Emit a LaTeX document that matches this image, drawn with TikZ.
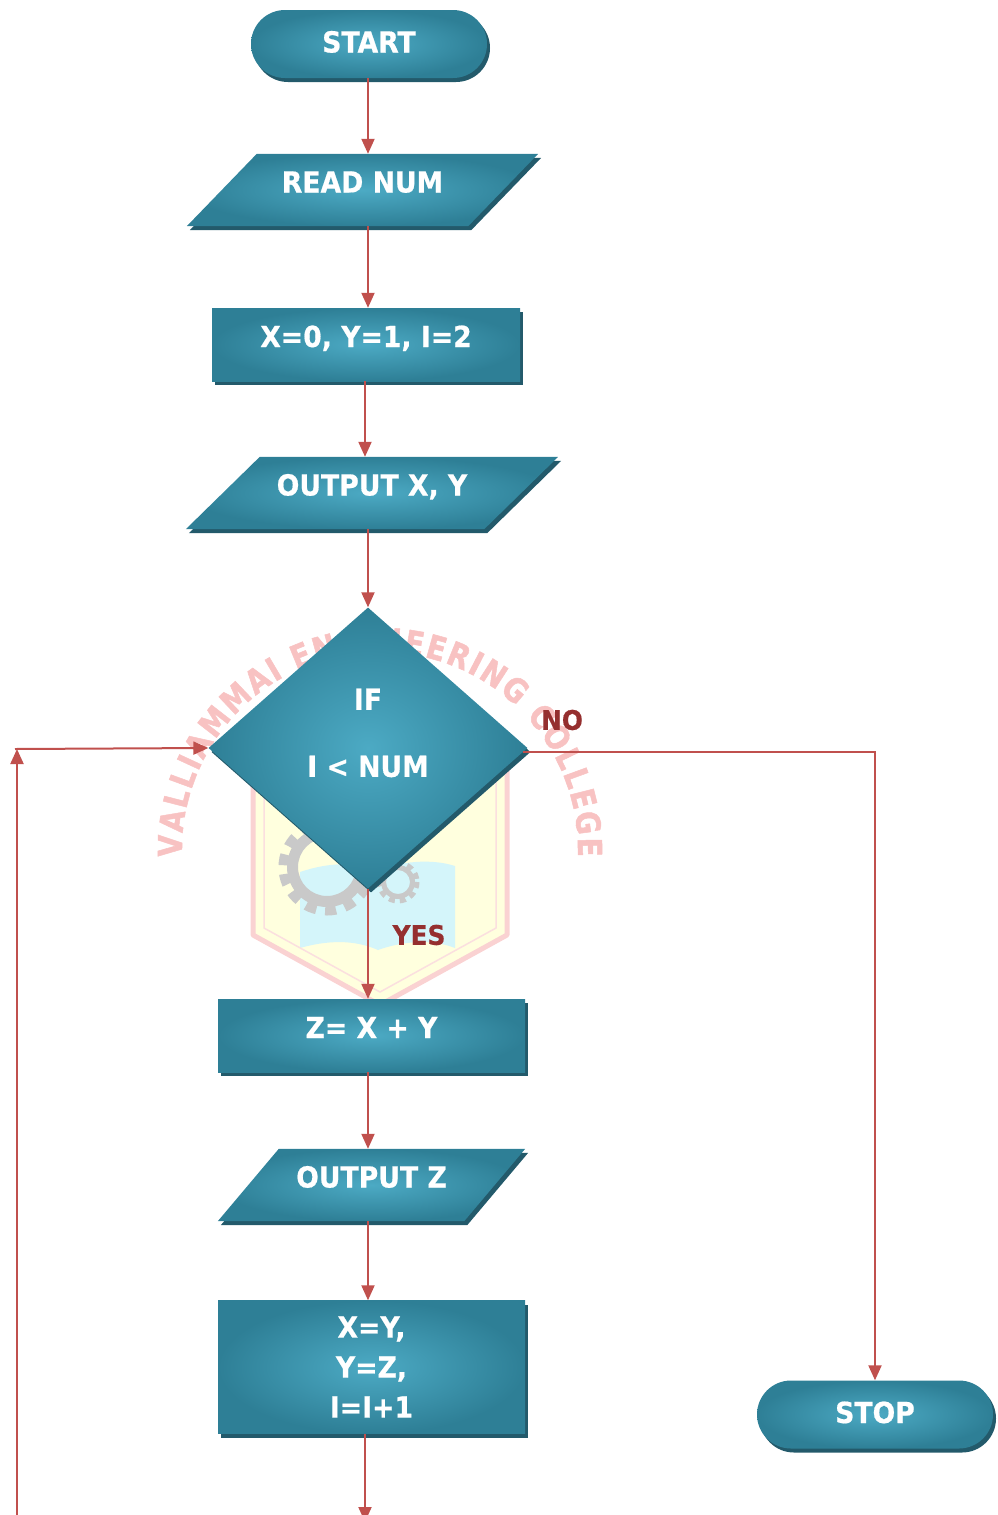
\documentclass[tikz,border=0pt]{standalone}
\usepackage{fontspec}
\setmainfont{DejaVu Sans}
\newfontfamily\boxfont{DejaVu Sans}[FakeStretch=0.92, BoldFeatures={FakeBold=0.6}]
\newfontfamily\wmfont{DejaVu Sans}[FakeStretch=0.85, BoldFeatures={FakeBold=1.5}]
\usetikzlibrary{shapes.geometric,shapes.misc,shadows,arrows.meta,decorations.text}
\pgfdeclarelayer{wm}
\pgfdeclarelayer{bg}
\pgfsetlayers{wm,bg,main}
\definecolor{tealout}{HTML}{2E7F96}
\definecolor{tealin}{HTML}{4CAAC4}
\definecolor{shadowc}{HTML}{235A6B}
\definecolor{arrowc}{HTML}{C0504D}
\definecolor{labelc}{HTML}{952F2F}
\definecolor{wmpink}{HTML}{F8C2C2}
\definecolor{wmline}{HTML}{FAD2D2}
\definecolor{wmyellow}{HTML}{FFFFDE}
\definecolor{wmblue}{HTML}{D4F5FA}
\definecolor{wmgray}{HTML}{C9C9C9}
\begin{document}
\begin{tikzpicture}[x=1pt,y=-1pt,
  fillshade/.style={inner color=tealin, outer color=tealout, draw=none,
    drop shadow={shadow xshift=3pt, shadow yshift=-4pt, fill=shadowc, opacity=1}},
  txt/.style={text=white, font=\boxfont\bfseries\fontsize{29}{30}\selectfont, align=center, inner sep=0pt},
  box/.style={fillshade, txt},
  term/.style={box, rounded rectangle, minimum width=236pt, minimum height=68pt,
    text height=21pt, text depth=4pt},
  proc/.style={box, rectangle, minimum width=307pt, minimum height=73pt,
    text height=21pt, text depth=16pt},
  io/.style={txt, rectangle, minimum height=72pt, text height=21pt, text depth=16pt},
  dec/.style={box, diamond, minimum width=319pt, minimum height=281pt},
  conn/.style={draw=arrowc, line width=2pt, -{Triangle[length=15pt,width=13pt]}},
  lbl/.style={text=labelc, font=\boxfont\bfseries\fontsize{27}{28}\selectfont, inner sep=0pt}
]
\useasboundingbox (0,0) rectangle (998,1515);

% ---- watermark (college logo) ----
\begin{pgfonlayer}{wm}
\fill[wmyellow] (253,740) -- (253,935) -- (380,1005) -- (507,935) -- (507,740) -- cycle;
\fill[wmblue] (300,872) -- (300,948) .. controls (335,938) and (360,942) .. (378,950)
  .. controls (400,942) and (430,938) .. (455,948) -- (455,866)
  .. controls (430,858) and (400,862) .. (378,870) .. controls (355,862) and (330,862) .. (300,872) -- cycle;
\fill[wmgray, even odd rule] (327,867) circle[radius=40] (327,867) circle[radius=29];
\draw[wmgray, line width=9pt, dash pattern=on 11pt off 9pt] (327,867) circle[radius=44];
\fill[wmgray, even odd rule] (398,882) circle[radius=17] (398,882) circle[radius=12];
\draw[wmgray, line width=5pt, dash pattern=on 6pt off 5pt] (398,882) circle[radius=19];
\draw[wmline, line width=5pt, line join=round] (253,740) -- (253,935) -- (380,1005) -- (507,935) -- (507,740);
\draw[wmline!70, line width=1.5pt] (264,740) -- (264,928) -- (380,992) -- (496,928) -- (496,740);
\path[decorate, decoration={text along path, text align=fit to path,
    text={|\color{wmpink}\wmfont\bfseries\fontsize{33}{33}\selectfont|VALLIAMMAI ENGINEERING COLLEGE}}]
  (380,850) ++(178:198) arc[start angle=178, end angle=362, radius=198];
\end{pgfonlayer}

% ---- axes for vertical connectors ----
\coordinate (axis) at (368,0);
\coordinate (axisb) at (365,0);

% ---- nodes ----
\node[term] (start) at (369,44) {START};
\node[io, minimum width=351pt] (read) at (362.5,190) {READ NUM};
\node[proc, minimum width=308pt] (init) at (366,344.5) {X=0, Y=1, I=2};
\node[io, minimum width=372pt] (outxy) at (372,493) {OUTPUT X, Y};
\node[dec] (dia) at (368,748) {};
\node[txt] (diatext) at (368,733) {IF\\[37pt]I < NUM};
\node[proc] (sum) at (371.5,1035.5) {Z= X + Y};
\node[io, minimum width=307pt] (outz) at (371.5,1185) {OUTPUT Z};
\node[box, rectangle, minimum width=307pt, minimum height=133pt] (upd) at (371.5,1367)
  {X=Y,\\[10pt]Y=Z,\\[10pt]I=I+1};
\node[term] (stop) at (875,1414.5) {STOP};

\node[lbl] (no) at (562,720) {NO};
\node[lbl] (yes) at (419,935) {YES};

% ---- parallelogram bodies of the input/output nodes ----
\begin{pgfonlayer}{bg}
\path[fillshade] ([xshift=70pt]read.north west) -- (read.north east)
  -- ([xshift=-70pt]read.south east) -- (read.south west) -- cycle;
\path[fillshade] ([xshift=74pt]outxy.north west) -- (outxy.north east)
  -- ([xshift=-74pt]outxy.south east) -- (outxy.south west) -- cycle;
\path[fillshade] ([xshift=61pt]outz.north west) -- (outz.north east)
  -- ([xshift=-61pt]outz.south east) -- (outz.south west) -- cycle;
\end{pgfonlayer}

\coordinate (bot) at (365,1522);
\coordinate (loopbot) at (17,1520);
\coordinate (loopcorner) at (17,749);

% ---- connectors ----
\draw[conn] (start.south -| axis) -- (read.north -| axis);
\draw[conn] (read.south -| axis) -- (init.north -| axis);
\draw[conn] (init.south -| axisb) -- (outxy.north -| axisb);
\draw[conn] (outxy.south -| axis) -- (dia.north);
\draw[conn] (dia.south) -- (sum.north -| dia.south);
\draw[conn] (sum.south -| axis) -- (outz.north -| axis);
\draw[conn] (outz.south -| axis) -- (upd.north -| axis);
\draw[conn] (upd.south -| axisb) -- (bot);
\draw[conn] ([xshift=-5pt,yshift=-4pt]dia.east) -| (stop.north);
\draw[conn] (loopbot) -- (loopcorner);
\draw[conn] ([xshift=-2pt]loopcorner) -- (dia.west);
\end{tikzpicture}
\end{document}
